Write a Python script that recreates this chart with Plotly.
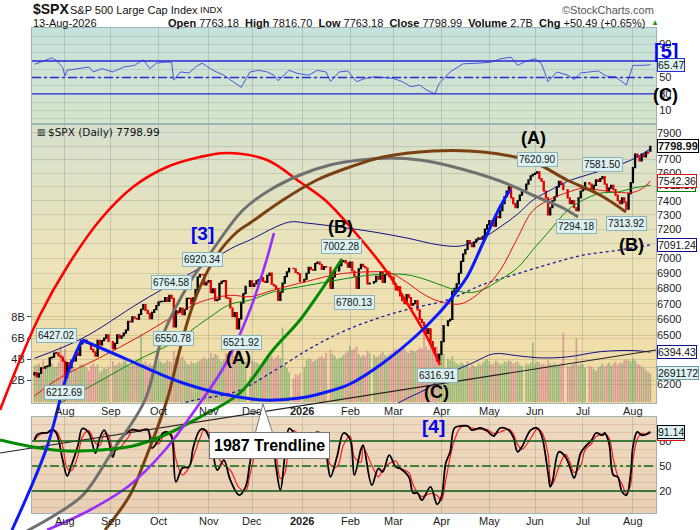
import math
import plotly.graph_objects as go

W, H = 700, 530
FONT = "Liberation Sans, Arial, sans-serif"

# ---------------------------------------------------------------------------
# Daily data. Trading-day 0 = Mon 14-Jul-2025, one step per weekday,
# None = market holiday.
# ---------------------------------------------------------------------------
close_jul25 = [6268.56, 6243.76, 6263.70, 6297.36, 6296.79, 6305.60, 6309.62, 6358.91, 6363.35,
               6388.64, 6389.77, 6370.86, 6362.90, 6339.39]
close_aug25 = [6238.01, 6329.94, 6299.19, 6345.06, 6340.00, 6389.45, 6373.45, 6445.76, 6466.58,
               6468.54, 6449.80, 6449.15, 6411.37, 6395.78, 6370.17, 6466.91, 6439.32, 6465.94,
               6481.40, 6501.86, 6460.26]
close_sep25 = [None, 6415.54, 6448.26, 6502.08, 6481.50, 6495.15, 6512.61, 6532.04, 6587.47,
               6584.29, 6615.28, 6606.76, 6600.35, 6631.96, 6664.36, 6693.75, 6656.92, 6637.97,
               6604.72, 6643.70, 6661.21, 6688.46]
close_oct25 = [6711.20, 6715.35, 6715.79, 6740.28, 6714.59, 6753.72, 6735.11, 6552.51, 6654.72,
               6644.31, 6671.06, 6629.07, 6664.01, 6735.13, 6735.35, 6699.40, 6738.44, 6791.69,
               6875.16, 6890.89, 6890.59, 6822.34, 6840.20]
close_nov25 = [6851.97, 6771.55, 6796.29, 6720.32, 6728.80, 6832.43, 6846.61, 6850.92, 6737.49,
               6734.11, 6672.41, 6617.32, 6642.16, 6538.76, 6602.99, 6705.12, 6765.88, 6812.61,
               None, 6849.09]
close_dec25 = [6812.63, 6829.37, 6849.72, 6857.12, 6870.40, 6846, 6840, 6886, 6901, 6827,
               6816, 6800, 6721, 6775, 6834, 6878, 6909, 6932, None, 6930, 6905, 6896, 6845]
close_jan26 = [None, 6860, 6900, 6940, 6925, 6920, 6965, 6975, 6960, 6925, 6945, 6940, None,
               6800, 6875, 6915, 6915, 6950, 6978, 6985, 6970, 6940]
close_feb26 = [6975, 6915, 6880, 6800, 6930, 6960, 6945, 6935, 6830, 6835, None, 6845, 6880,
               6860, 6905, 6840, 6890, 6910, 6880, 6875]
close_mar26 = [6830, 6790, 6810, 6750, 6720, 6700, 6760, 6740, 6690, 6700, 6720, 6660, 6600,
               6580, 6560, 6510, 6540, 6460, 6420, 6380, 6340, 6380]
close_apr26 = [6460, 6560, None, 6590, 6600, 6780, 6800, 6830, 6900, 6980, 7030, 7060, 7120,
               7100, 7080, 7110, 7130, 7140, 7130, 7150, 7200, 7230]
close_may26 = [7260, 7250, 7220, 7290, 7280, 7330, 7380, 7430, 7470, 7500, 7420, 7380, 7350,
               7400, 7440, 7480, None, 7520, 7550, 7580, 7590]
close_jun26 = [7600, 7610, 7560, 7540, 7470, 7420, 7300, 7350, 7400, 7430, 7500, 7540, 7520,
               7480, None, 7420, 7380, 7400, 7350, 7330, 7420, 7470]
close_jul26 = [7480, 7530, None, 7520, 7480, 7510, 7550, 7540, 7560, 7575, 7520, 7470, 7490,
               7510, 7480, 7440, 7400, 7380, 7420, 7390, 7340, 7450, 7530]
close_aug26 = [7640, 7740, 7720, 7690, 7740, 7720, 7755, 7748.50, 7798.99]

# volume, billions of shares
vol_jul25 = [3.4, 3.5, 3.6, 3.3, 3.9, 3.2, 3.4, 3.5, 3.6, 3.3, 3.3, 3.7, 5.2, 4.4]
vol_aug25 = [5.0, 3.8, 3.6, 3.4, 3.3, 3.1, 3.0, 3.5, 3.6, 3.4, 3.2, 2.9, 3.4, 3.6, 3.3, 3.5,
             2.8, 3.0, 3.2, 3.1, 3.3]
vol_sep25 = [None, 3.8, 3.4, 3.5, 3.7, 3.6, 3.9, 3.8, 3.5, 3.4, 3.6, 3.7, 3.9, 4.0, 6.4, 3.6,
             3.8, 3.5, 3.6, 3.4, 3.3, 3.7]
vol_oct25 = [3.9, 3.8, 3.6, 3.7, 3.9, 3.8, 3.7, 4.8, 4.2, 4.0, 4.1, 4.3, 3.9, 3.6, 3.5, 3.8,
             3.7, 3.6, 3.8, 3.9, 4.0, 4.2, 4.0]
vol_nov25 = [4.1, 4.6, 4.2, 4.5, 4.4, 4.0, 3.8, 4.0, 4.6, 4.5, 4.4, 4.7, 4.3, 5.0, 5.4, 4.2,
             4.0, 3.8, None, 2.4]
vol_dec25 = [3.9, 3.8, 3.7, 3.6, 3.5, 3.7, 3.8, 4.0, 4.1, 4.3, 4.0, 4.2, 4.4, 4.1, 7.0, 3.5,
             3.2, 2.8, None, 2.2, 2.6, 2.5, 2.7]
vol_jan26 = [None, 3.3, 3.9, 4.1, 4.0, 3.8, 3.9, 4.0, 4.2, 4.3, 4.1, 4.6, None, 4.9, 4.5, 4.3,
             4.0, 4.1, 4.2, 4.4, 4.6, 4.8]
vol_feb26 = [5.3, 4.9, 5.0, 5.2, 4.5, 4.2, 4.4, 4.3, 4.8, 4.6, None, 4.4, 4.2, 4.3, 4.5, 4.7,
             4.4, 4.3, 4.5, 4.6]
vol_mar26 = [4.8, 5.0, 4.6, 4.9, 5.1, 5.0, 4.7, 4.6, 4.9, 4.8, 4.7, 4.9, 5.1, 5.0, 6.6, 5.2,
             4.9, 5.1, 5.0, 4.8, 5.2, 4.6]
vol_apr26 = [4.4, 4.5, None, 4.1, 3.9, 4.3, 3.8, 3.6, 3.5, 3.7, 3.6, 3.4, 3.8, 3.2, 3.5, 3.4,
             3.3, 3.6, 3.5, 3.7, 3.9, 4.0]
vol_may26 = [3.8, 3.5, 3.6, 3.9, 3.7, 3.5, 3.6, 3.8, 3.7, 3.9, 3.8, 3.6, 3.7, 3.8, 3.5, 3.4,
             None, 3.6, 3.5, 3.7, 5.6]
vol_jun26 = [3.6, 3.8, 3.7, 3.5, 3.6, 3.4, 3.9, 3.6, 3.5, 3.7, 3.4, 3.5, 3.6, 6.5, None, 3.4,
             3.3, 3.5, 3.6, 6.0, 3.4, 3.6]
vol_jul26 = [3.5, 3.2, None, 3.4, 3.3, 3.1, 2.9, 3.2, 3.4, 3.6, 3.3, 3.5, 3.7, 3.4, 3.6, 3.8,
             3.5, 3.7, 3.6, 3.9, 4.0, 3.9, 3.8]
vol_aug26 = [4.1, 3.9, 3.6, 3.5, 3.3, 3.2, 3.0, 2.8, 2.69]

# overlays at sample days
ma20_day = [0, 12, 30, 48, 64, 76, 90, 99, 110, 125, 140, 156, 163, 171, 179, 186, 196, 206,
            214, 222, 229, 237, 245, 252, 260, 268, 275, 280, 283]
ma20_val = [6130, 6240, 6360, 6490, 6620, 6710, 6755, 6745, 6790, 6845, 6895, 6910, 6905, 6840,
            6760, 6715, 6700, 6790, 6920, 7140, 7330, 7410, 7460, 7490, 7475, 7460, 7460, 7495,
            7542.36]
ma50_day = [0, 12, 30, 48, 64, 79, 90, 99, 110, 125, 140, 156, 171, 180, 190, 199, 206, 214,
            222, 229, 237, 245, 252, 260, 268, 275, 283]
ma50_val = [6010, 6090, 6218, 6350, 6455, 6599, 6697, 6723, 6778, 6818, 6857, 6890, 6890, 6857,
            6805, 6772, 6791, 6857, 6937, 7057, 7194, 7333, 7404, 7454, 7462, 7490, 7511.16]
bb_up_day = [0, 22, 48, 64, 77, 90, 99, 117, 125, 140, 156, 171, 186, 196, 206, 214, 222, 229,
             237, 245, 252, 261, 274, 283]
bb_up_val = [6356, 6480, 6705, 6837, 6943, 7064, 7125, 7249, 7242, 7215, 7180, 7139, 7091, 7084,
             7139, 7215, 7305, 7404, 7475, 7540, 7577, 7621, 7695, 7780]
bb_mid_day = [40, 73, 93, 110, 125, 140, 156, 171, 190, 206, 222, 237, 252, 268, 283]
bb_mid_val = [5990, 6103, 6157, 6279, 6404, 6512, 6599, 6662, 6726, 6825, 6897, 6963, 7021,
              7054, 7091.24]
bb_low_day = [150, 168, 180, 191, 202, 211, 222, 232, 245, 260, 275, 283]
bb_low_val = [5950, 6094, 6170, 6266, 6332, 6384, 6372, 6359, 6365, 6397, 6404, 6394.43]

rsi_day = [0, 3, 8, 10, 13, 14, 15, 20, 25, 27, 31, 36, 41, 46, 50, 53, 56, 60, 63, 64, 67, 71,
           74, 77, 82, 87, 91, 95, 99, 103, 107, 110, 112, 117, 121, 126, 130, 134, 136, 140,
           144, 148, 152, 156, 160, 165, 169, 173, 177, 180, 184, 186, 191, 197, 204, 210, 214,
           219, 222, 226, 230, 233, 236, 240, 245, 248, 251, 255, 259, 263, 267, 272, 275, 280,
           283]
rsi_val = [66, 68.6, 73.8, 70.6, 62, 51.6, 58.7, 60.7, 62.7, 56.7, 60.7, 56.7, 62.7, 64.7, 71.4,
           60.7, 67.4, 68.6, 68.6, 46.8, 56.7, 55.5, 62.7, 67.4, 58.7, 52.8, 44.9, 38.1, 56.7,
           58.7, 56.7, 52.8, 46, 58.7, 54.8, 52.8, 58.7, 56.7, 44.9, 56.7, 57.9, 44.9, 48.8,
           50.8, 50, 48.8, 44.9, 38.9, 40.9, 35, 30.2, 42.9, 56.7, 66.6, 67.4, 68.6, 72.6, 74.6,
           64.7, 70, 72.6, 66.6, 44.9, 56.7, 52.8, 47.6, 55.5, 56.7, 57.9, 51.6, 50.8, 40.9,
           64.7, 64.7, 65.47]

stoch_day = [0, 1, 3, 6, 8, 10, 13, 15, 17, 20, 22, 25, 28, 30, 32, 34, 36, 38, 43, 45, 48, 52,
             54, 57, 59, 61, 63, 65, 68, 71, 73, 76, 78, 81, 84, 87, 90, 94, 97, 99, 102, 105,
             109, 111, 113, 115, 117, 119, 122, 125, 128, 131, 134, 136, 139, 142, 145, 147,
             150, 151, 155, 158, 160, 163, 166, 168, 172, 174, 176, 178, 182, 185, 187, 189,
             191, 193, 196, 199, 201, 205, 208, 211, 214, 218, 220, 222, 224, 228, 231, 233,
             236, 237, 238, 241, 244, 246, 248, 251, 253, 256, 258, 261, 262, 264, 266, 268,
             270, 272, 274, 275, 277, 279, 281, 283]
stoch_k = [81, 87, 89.6, 90, 94, 89.6, 57, 38, 51, 75, 95, 89.6, 65.6, 83.6, 93, 81, 60.8, 77.6,
           90.8, 94, 92, 94, 71.6, 81, 89.6, 90.8, 85, 31, 47.6, 49, 72.8, 93, 94, 79, 45, 57,
           33, 15, 25, 53.6, 89.6, 93, 83.6, 48.8, 21, 60.8, 95, 90.8, 80, 70, 88, 90, 65.6, 37,
           61, 89.6, 82, 39, 70, 75, 27, 47, 43, 63, 49, 47, 37, 17.6, 17.6, 9, 25, 4, 13, 53.6,
           67, 95.6, 98, 98, 93, 95.6, 92, 86, 95.6, 93, 84.8, 67, 73, 93, 95.6, 87, 41.6, 25,
           31, 67, 61, 49, 35.6, 65.6, 73, 81, 89.6, 87, 89.6, 77.6, 39, 37, 19, 15, 41.6, 73,
           91, 87, 88, 91.14]

month_day = [14, 35, 57, 80, 100, 123, 145, 165, 187, 209, 230, 252, 275]
month_text = ["Aug", "Sep", "Oct", "Nov", "Dec", "<b>2026</b>", "Feb", "Mar", "Apr", "May",
              "Jun", "Jul", "Aug"]
price_ticks = list(range(6200, 8000, 100))
price_hidden = [6300, 6400, 7100, 7500, 7800]   # covered by the value tags

# swing-point labels: text, day, price, above(+1)/below(-1)
swing_labels = [("6427.02", 10, 6427.02, 1), ("6212.69", 14, 6212.69, -1),
                ("6764.58", 63, 6764.58, 1), ("6550.78", 64, 6550.78, -1),
                ("6920.34", 77, 6920.34, 1), ("6521.92", 95, 6521.92, -1),
                ("7002.28", 141, 7002.28, 1), ("6780.13", 147, 6780.13, -1),
                ("6316.91", 185, 6316.91, -1), ("7620.90", 231, 7620.90, 1),
                ("7581.50", 261, 7581.50, 1), ("7294.18", 249, 7294.18, -1),
                ("7313.92", 272, 7313.92, -1)]

# hand-drawn annotation curves, in picture pixels
arc_red_x = [0, 20, 40, 67, 100, 133, 167, 200, 227, 267, 300, 325, 353, 387, 407, 427, 440]
arc_red_y = [410, 360, 315, 267, 220, 187, 167, 157, 153, 160, 182, 200, 230, 272, 303, 337, 365]
arc_gray_x = [25, 55, 83, 112, 145, 163, 190, 207, 243, 270, 300, 330, 360, 390, 420, 450, 500,
              537, 563, 578]
arc_gray_y = [532, 515, 495, 452, 400, 335, 282, 258, 210, 190, 175, 165, 160, 158, 160, 166,
              181, 197, 208, 217]
arc_brown_x = [105, 130, 145, 167, 178, 188, 200, 217, 237, 250, 283, 317, 350, 383, 433, 483,
               533, 567, 600, 626]
arc_brown_y = [530, 495, 460, 400, 357, 320, 287, 255, 232, 223, 200, 180, 167, 157, 151, 152,
               162, 180, 195, 212]
blue_left_x = [12, 47, 67, 82]
blue_left_y = [530, 447, 375, 340]
arc_blue_x = [82, 110, 133, 160, 183, 210, 233, 263, 300, 330, 350, 383, 417, 440, 450, 467,
              483, 500, 510]
arc_blue_y = [340, 352, 362, 374, 383, 391, 396, 400, 398, 391, 384, 363, 335, 312, 300, 277,
              243, 207, 190]
arc_green_x = [0, 33, 67, 100, 133, 167, 200, 240, 273, 300, 320, 342]
arc_green_y = [440, 447, 451, 450, 446, 434, 417, 393, 350, 320, 292, 259]
purple_x = [47, 90, 130, 165, 195, 225, 250, 265, 274]
purple_y = [530, 510, 485, 450, 410, 365, 310, 265, 233]
trend_x = [0, 656]
trend_y = [453, 350]

wave_labels = [("[5]", 666, 51, "#0000ee", 20), ("(C)", 665, 95, "black", 18),
               ("[3]", 202, 233, "#0000ee", 19), ("(A)", 238, 358, "black", 18),
               ("(B)", 340, 227, "black", 18), ("(C)", 436, 392, "black", 18),
               ("(A)", 533, 138, "black", 18), ("(B)", 631, 245, "black", 18),
               ("[4]", 433, 426, "#0000ee", 19)]

# ---------------------------------------------------------------------------
close = (close_jul25 + close_aug25 + close_sep25 + close_oct25 + close_nov25 + close_dec25 +
         close_jan26 + close_feb26 + close_mar26 + close_apr26 + close_may26 + close_jun26 +
         close_jul26 + close_aug26)
volume = (vol_jul25 + vol_aug25 + vol_sep25 + vol_oct25 + vol_nov25 + vol_dec25 + vol_jan26 +
          vol_feb26 + vol_mar26 + vol_apr26 + vol_may26 + vol_jun26 + vol_jul26 + vol_aug26)

# panel geometry (pixels)
X0, X1 = 32, 656
RSI_T, RSI_B = 28, 123
MAIN_T, MAIN_B = 125, 403
STO_T, STO_B = 417, 513


def fx(x):
    return x / W


def fy(y):
    return 1 - y / H


cd = [d for d, c in enumerate(close) if c is not None]
cc = [close[d] for d in cd]
co = [6255.0] + cc[:-1]
co[-1] = 7763.18
ch = [max(o, c) for o, c in zip(co, cc)]
cl = [min(o, c) for o, c in zip(co, cc)]
up_day = {d: c >= o for d, o, c in zip(cd, co, cc)}

vd = [d for d, v in enumerate(volume) if v is not None]
vv = [volume[d] for d in vd]
vcol = ["rgba(95,160,95,0.6)" if up_day.get(d, True) else "rgba(195,85,135,0.5)" for d in vd]

stoch_d = [(stoch_k[max(i - 1, 0)] + stoch_k[i]) / 2 for i in range(len(stoch_k))]

fig = go.Figure()

# volume + price
fig.add_trace(go.Bar(x=vd, y=vv, marker=dict(color=vcol, line=dict(width=0)), width=0.75,
                     xaxis="x2", yaxis="y2", showlegend=False))
fig.add_trace(go.Scatter(x=bb_mid_day, y=bb_mid_val, mode="lines", line_shape="spline",
                         line=dict(color="#1a1aa0", width=1.3, dash="dot"),
                         xaxis="x2", yaxis="y3", showlegend=False))
for dd, vals, col in [(bb_up_day, bb_up_val, "#10108a"), (bb_low_day, bb_low_val, "#10108a"),
                      (ma50_day, ma50_val, "#0a8a0a"), (ma20_day, ma20_val, "#e01010")]:
    fig.add_trace(go.Scatter(x=dd, y=vals, mode="lines", line_shape="spline",
                             line=dict(color=col, width=1), xaxis="x2", yaxis="y3",
                             showlegend=False))
fig.add_trace(go.Candlestick(x=cd, open=co, high=ch, low=cl, close=cc, whiskerwidth=0,
                             increasing=dict(line=dict(color="black", width=1.2),
                                             fillcolor="black"),
                             decreasing=dict(line=dict(color="#e00000", width=1.2),
                                             fillcolor="#e00000"),
                             xaxis="x2", yaxis="y3", showlegend=False))

# RSI
fig.add_trace(go.Scatter(x=rsi_day, y=rsi_val, mode="lines", line=dict(color="#4a55dd", width=1),
                         xaxis="x", yaxis="y", showlegend=False))
# stochastics
fig.add_trace(go.Scatter(x=stoch_day, y=stoch_d, mode="lines", line_shape="spline",
                         line=dict(color="#ff1a1a", width=1.2), xaxis="x3", yaxis="y4",
                         showlegend=False))
fig.add_trace(go.Scatter(x=stoch_day, y=stoch_k, mode="lines", line_shape="spline",
                         line=dict(color="black", width=1.8), xaxis="x3", yaxis="y4",
                         showlegend=False))

# drawn curves on a full-picture pixel layer
curves = [(trend_x, trend_y, "#222222", 1.2), (arc_red_x, arc_red_y, "#ff0000", 2.6),
          (arc_gray_x, arc_gray_y, "#707070", 3), (arc_brown_x, arc_brown_y, "#7b3f10", 3),
          (arc_green_x, arc_green_y, "#008a00", 3), (purple_x, purple_y, "#9a2cff", 2.6),
          (blue_left_x, blue_left_y, "#0a1aff", 3), (arc_blue_x, arc_blue_y, "#0a1aff", 3)]
for xs, ys, col, wd in curves:
    fig.add_trace(go.Scatter(x=xs, y=ys, mode="lines", line_shape="spline",
                             line=dict(color=col, width=wd), xaxis="x4", yaxis="y5",
                             showlegend=False, hoverinfo="skip"))

# ---------------------------------------------------------------------------
shapes = []


def grad(top, bot, c0, c1, n=18):
    for i in range(n):
        t = i / (n - 1)
        c = [round(a + (b - a) * t) for a, b in zip(c0, c1)]
        y0 = top + (bot - top) * i / n
        y1 = top + (bot - top) * (i + 1) / n + 0.6
        shapes.append(dict(type="rect", xref="paper", yref="paper", x0=fx(X0), x1=fx(X1),
                           y0=fy(min(y1, bot)), y1=fy(y0), fillcolor="rgb(%d,%d,%d)" % tuple(c),
                           line=dict(width=0), layer="below"))


grad(RSI_T, RSI_B, (198, 226, 220), (214, 229, 203))
grad(MAIN_T, 265, (215, 225, 206), (236, 227, 184))
grad(265, MAIN_B, (236, 227, 184), (243, 218, 162))
grad(STO_T, STO_B, (238, 218, 193), (233, 208, 180))

for lv, dash, col, yref in [(70, "solid", "#2a2ad8", "y"), (30, "solid", "#2a2ad8", "y"),
                            (50, "dashdot", "#2a2ad8", "y"), (80, "solid", "#0b5a16", "y4"),
                            (20, "solid", "#0b5a16", "y4"), (50, "dashdot", "#0b6a16", "y4")]:
    shapes.append(dict(type="line", xref="paper", x0=fx(X0), x1=fx(X1), yref=yref, y0=lv, y1=lv,
                       line=dict(color=col, width=1.3, dash=dash)))

# callout wedge for the trendline note
shapes.append(dict(type="path", xref="paper", yref="paper",
                   path="M %f,%f L %f,%f L %f,%f Z" % (fx(255), fy(434), fx(263), fy(404),
                                                       fx(273), fy(434)),
                   fillcolor="white", line=dict(color="#777", width=1), layer="above"))

ann = []


def text(t, x, y, size=11, color="#111", xa="left", bold=False, family=FONT, **kw):
    ann.append(dict(text="<b>%s</b>" % t if bold else t, x=fx(x), y=fy(y), xref="paper",
                    yref="paper", xanchor=xa, yanchor="middle", showarrow=False,
                    font=dict(size=size, color=color, family=family), **kw))


text("$SPX", 31, 9, size=14, bold=True)
text("S&P 500 Large Cap Index", 68, 10, size=11)
text("INDX", 198, 10, size=9.5)
text("©StockCharts.com", 656, 10, size=11, color="#555", xa="right")
text("13-Aug-2026", 31, 23, size=11)
text("<b>Open</b> 7763.18  <b>High</b> 7816.70  <b>Low</b> 7763.18  <b>Close</b> 7798.99  "
     "<b>Volume</b> 2.7B  <b>Chg</b> +50.49 (+0.65%)", 647, 23, size=11, xa="right")
text("▲", 649, 23, size=8, color="#1a9a1a")
text("$SPX (Daily) 7798.99", 46, 132, size=10.5, family="DejaVu Sans, sans-serif")
text("▥", 35, 132, size=9)

for t, x, y, col, sz in wave_labels:
    text(t, x, y, size=sz, color=col, xa="center", bold=True)

text("1987 Trendline", 269, 445, size=16, color="black", xa="center", bold=True,
     bgcolor="white", bordercolor="#777", borderwidth=1, borderpad=4)

# month labels under the price panel and under the stochastics panel
for d, t in zip(month_day, month_text):
    for yy in (411, 521):
        ann.append(dict(text=t, x=d, y=fy(yy), xref="x2", yref="paper", showarrow=False,
                        xanchor="center", yanchor="middle",
                        font=dict(size=11, color="#222", family=FONT)))

for t, d, p, side in swing_labels:
    ann.append(dict(text=t, x=d, y=math.log10(p), xref="x2", yref="y3", showarrow=False,
                    yshift=11 * side, xanchor="center", yanchor="middle",
                    font=dict(size=10, color="#111", family=FONT), bgcolor="#dcf2f2",
                    bordercolor="#8fb2b4", borderwidth=1, borderpad=1))

# value tags on the right axis: text, value, axis, border, bold, fill
tags = [("6394.43", math.log10(6394.43), "y3", "#10108a", False, "white"),
        ("7091.24", math.log10(7091.24), "y3", "#10108a", False, "white"),
        ("7511.16", math.log10(7511.16), "y3", "#0a7a0a", False, "white"),
        ("7542.36", math.log10(7542.36), "y3", "#e01010", False, "white"),
        ("7798.99", math.log10(7798.99), "y3", "black", True, "white"),
        ("2691172", vv[-1], "y2", "#6a9aa0", False, "#dcf2f2"),
        ("65.47", 65.47, "y", "#2a2ad8", False, "#dcf2f2"),
        ("88.90", 88.9, "y4", "#e01010", False, "#dcf2f2"),
        ("91.14", 91.14, "y4", "black", False, "#dcf2f2")]
for t, yv, yref, bc, bold, bg in tags:
    ann.append(dict(text="<b>%s</b>" % t if bold else t, x=fx(657), y=yv, xref="paper",
                    yref=yref, xanchor="left", yanchor="middle", showarrow=False,
                    font=dict(size=11 if bold else 10.5, color="#111", family=FONT), bgcolor=bg,
                    bordercolor=bc, borderwidth=1, borderpad=0))

grid_main = "rgba(110,110,80,0.22)"
axis_line = "#9fb2b6"
tick_font = dict(size=11, color="#222", family=FONT)
xr = [-1.15, 285.6]
xbase = dict(range=xr, tickvals=month_day, showgrid=True, showticklabels=False,
             gridcolor="rgba(110,120,110,0.28)", gridwidth=1, zeroline=False, showline=True,
             mirror=True, linecolor=axis_line, ticks="", fixedrange=True,
             domain=[fx(X0), fx(X1)])

fig.update_layout(
    width=W, height=H, autosize=False, margin=dict(l=0, r=0, t=0, b=0),
    paper_bgcolor="white", plot_bgcolor="rgba(0,0,0,0)", showlegend=False,
    font=dict(family=FONT, size=11, color="#222"),
    xaxis=dict(xbase, anchor="y"),
    yaxis=dict(domain=[fy(RSI_B), fy(RSI_T)], range=[-5.2, 110], side="right",
               tickvals=list(range(0, 101, 10)),
               ticktext=["", "10", "", "30", "", "50", "", "", "", "90", ""],
               showgrid=True, gridcolor="rgba(90,120,110,0.2)", zeroline=False, showline=True,
               mirror=True, linecolor=axis_line, ticks="", tickfont=tick_font, anchor="x"),
    xaxis2=dict(xbase, anchor="y2", rangeslider=dict(visible=False)),
    yaxis2=dict(domain=[fy(MAIN_B), fy(MAIN_T)], range=[-0.1, 26], side="left",
                tickvals=[2, 4, 6, 8], ticktext=["2B", "4B", "6B", "8B"], ticks="outside",
                ticklen=4, tickcolor="#444", showgrid=True, gridcolor=grid_main, zeroline=False,
                showline=True, mirror=True, linecolor=axis_line, tickfont=tick_font,
                anchor="x2"),
    yaxis3=dict(overlaying="y2", anchor="x2", side="right", type="log",
                range=[math.log10(6088), math.log10(7961)], tickvals=price_ticks,
                ticktext=["" if p in price_hidden else str(p) for p in price_ticks],
                showgrid=True, gridcolor=grid_main,
                zeroline=False, ticks="", tickfont=tick_font, showline=False),
    xaxis3=dict(xbase, anchor="y4"),
    yaxis4=dict(domain=[fy(STO_B), fy(STO_T)], range=[-6.4, 108.8], side="right",
                tickvals=list(range(0, 101, 10)),
                ticktext=["", "", "20", "", "", "50", "", "", "80", "", ""],
                showgrid=True, gridcolor="rgba(140,100,70,0.18)", zeroline=False, showline=True,
                mirror=True, linecolor=axis_line, ticks="", tickfont=tick_font, anchor="x3"),
    xaxis4=dict(domain=[0, 1], range=[0, W], visible=False, fixedrange=True, anchor="y5"),
    yaxis5=dict(domain=[0, 1], range=[H, 0], visible=False, fixedrange=True, anchor="x4"),
    shapes=shapes, annotations=ann, hovermode=False,
)

# page body has a default 8px margin; drop it so the 700x530 chart fills the window
fig.write_html("out.html", config={"displayModeBar": False},
               post_script="document.body.style.margin='0px';")
